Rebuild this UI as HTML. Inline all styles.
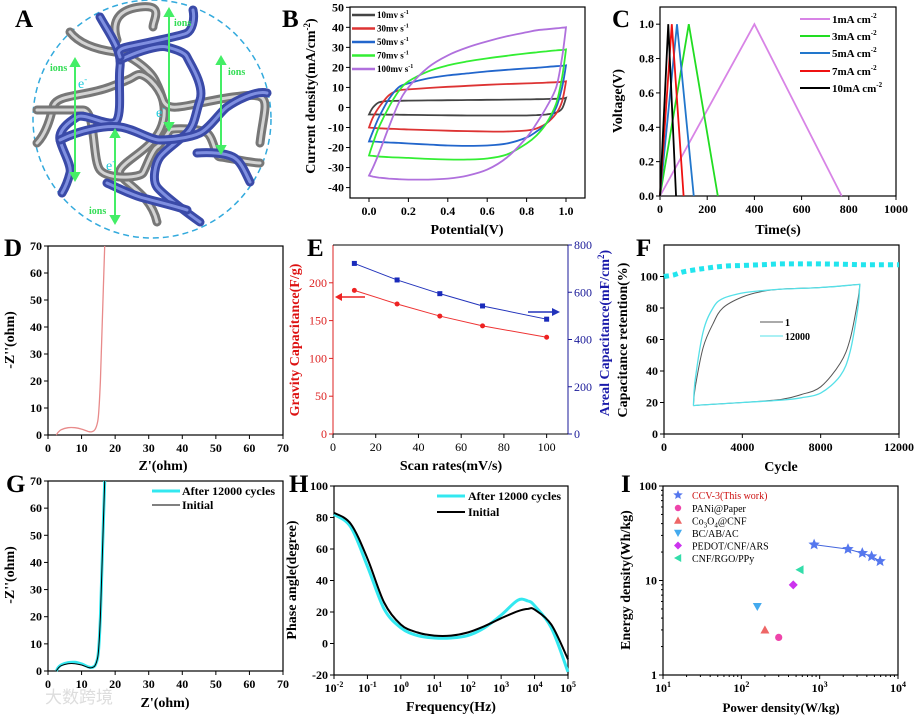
<!DOCTYPE html>
<html><head><meta charset="utf-8">
<style>
html,body{margin:0;padding:0;background:#fff;}
svg{display:block;font-family:"Liberation Serif","Noto Serif CJK SC",serif;}
.pl{font-size:25px;font-weight:bold;fill:#000;}
</style></head>
<body>
<svg id="fig" width="919" height="718" viewBox="0 0 919 718" xmlns="http://www.w3.org/2000/svg">
<rect width="919" height="718" fill="#fff"/>
<g>
<circle cx="152" cy="119" r="119" fill="none" stroke="#33aadd" stroke-width="1.5" stroke-dasharray="6,4"/>
<g fill="none" stroke-linecap="round" stroke-linejoin="round">
<path d="M70,32 C80,45 100,50 115,52 S150,70 155,80 S170,110 160,130 S125,160 120,170 S150,190 157,222" stroke="#777" stroke-width="9"/>
<path d="M70,32 C80,45 100,50 115,52 S150,70 155,80 S170,110 160,130 S125,160 120,170 S150,190 157,222" stroke="#d4d4d4" stroke-width="3"/>
<path d="M37,143 C45,135 50,120 53,107 S83,97 110,87 S130,78 137,75 S158,85 163,100 S190,103 233,97 S265,100 260,143" stroke="#777" stroke-width="9"/>
<path d="M37,143 C45,135 50,120 53,107 S83,97 110,87 S130,78 137,75 S158,85 163,100 S190,103 233,97 S265,100 260,143" stroke="#d4d4d4" stroke-width="3"/>
<path d="M37,110 C50,110 70,110 83,110 S92,160 100,170 S140,178 143,173 S152,150 157,147 S168,132 170,130 S200,128 207,133 S215,157 220,157 S250,163 260,163" stroke="#777" stroke-width="9"/>
<path d="M37,110 C50,110 70,110 83,110 S92,160 100,170 S140,178 143,173 S152,150 157,147 S168,132 170,130 S200,128 207,133 S215,157 220,157 S250,163 260,163" stroke="#d4d4d4" stroke-width="3"/>
<path d="M117,40 C112,25 115,10 140,7 S153,20 153,27" stroke="#777" stroke-width="9"/>
<path d="M117,40 C112,25 115,10 140,7 S153,20 153,27" stroke="#d4d4d4" stroke-width="3"/>
</g>
<g fill="none" stroke-linecap="round" stroke-linejoin="round">
<path d="M100,17 C110,35 122,50 120,67 S122,110 117,120 S85,112 77,117 S58,130 60,140 S72,165 70,173 S65,188 62,193" stroke="#3a4aa8" stroke-width="9"/>
<path d="M100,17 C110,35 122,50 120,67 S122,110 117,120 S85,112 77,117 S58,130 60,140 S72,165 70,173 S65,188 62,193" stroke="#7f8fe0" stroke-width="3"/>
<path d="M120,60 C140,50 160,45 167,47 S185,52 187,57 S205,85 200,100 S195,125 187,133 S165,150 160,157 S152,180 157,187 S190,215 200,222" stroke="#3a4aa8" stroke-width="9"/>
<path d="M120,60 C140,50 160,45 167,47 S185,52 187,57 S205,85 200,100 S195,125 187,133 S165,150 160,157 S152,180 157,187 S190,215 200,222" stroke="#7f8fe0" stroke-width="3"/>
<path d="M193,10 C195,20 192,30 187,33 S140,44 127,47 S120,55 120,57" stroke="#3a4aa8" stroke-width="9"/>
<path d="M193,10 C195,20 192,30 187,33 S140,44 127,47 S120,55 120,57" stroke="#7f8fe0" stroke-width="3"/>
<path d="M60,140 C80,130 105,125 120,127 S150,140 160,140 S190,138 200,133 S220,112 227,107 S255,90 267,93" stroke="#3a4aa8" stroke-width="9"/>
<path d="M60,140 C80,130 105,125 120,127 S150,140 160,140 S190,138 200,133 S220,112 227,107 S255,90 267,93" stroke="#7f8fe0" stroke-width="3"/>
<path d="M197,153 C210,152 225,153 233,157 S245,172 250,182" stroke="#3a4aa8" stroke-width="9"/>
<path d="M197,153 C210,152 225,153 233,157 S245,172 250,182" stroke="#7f8fe0" stroke-width="3"/>
<path d="M107,183 C118,188 130,194 140,197 S175,206 187,210" stroke="#3a4aa8" stroke-width="9"/>
<path d="M107,183 C118,188 130,194 140,197 S175,206 187,210" stroke="#7f8fe0" stroke-width="3"/>
</g>
<g stroke="#44ee66" stroke-width="2" fill="#44ee66">
<line x1="75" y1="64" x2="75" y2="175"/><path d="M71,66 L75,59 L79,66Z"/><path d="M71,173 L75,180 L79,173Z"/>
<line x1="169" y1="14" x2="169" y2="125"/><path d="M165,16 L169,9 L173,16Z"/><path d="M165,123 L169,130 L173,123Z"/>
<line x1="221" y1="62" x2="221" y2="148"/><path d="M217,64 L221,57 L225,64Z"/><path d="M217,146 L221,153 L225,146Z"/>
<line x1="115" y1="135" x2="115" y2="218"/><path d="M111,137 L115,130 L119,137Z"/><path d="M111,216 L115,223 L119,216Z"/>
</g>
<g font-size="10" font-weight="bold" fill="#33dd55">
<text x="50" y="71">ions</text><text x="174" y="26">ions</text><text x="228" y="75">ions</text><text x="89" y="214">ions</text>
</g>
<g font-size="14" fill="#22ccdd">
<text x="78" y="88">e<tspan font-size="9" dy="-6">-</tspan></text>
<text x="156" y="117">e<tspan font-size="9" dy="-6">-</tspan></text>
<text x="106" y="170">e<tspan font-size="9" dy="-6">-</tspan></text>
</g>
</g>
<g id="charts"></g>
<text x="45" y="703" font-size="17" fill="#ddd" font-family="Liberation Sans,Noto Sans CJK SC,sans-serif">大数跨境</text>
</svg>
<script>
// ---------- DATA ----------
const cvPotential = [0,0.02,0.05,0.1,0.15,0.2,0.3,0.4,0.5,0.6,0.7,0.8,0.85,0.9,0.95,0.98,1.0];
const cvRates = ["10mv s","30mv s","50mv s","70mv s","100mv s"];
const cvUpper10 = [-3.5,0,2.5,3.2,3.3,3.4,3.5,3.6,3.7,3.8,3.9,4.0,4.1,4.2,4.3,4.4,4.8];
const cvLower10 = [-3.5,-3.5,-3.5,-3.6,-3.6,-3.7,-3.8,-3.9,-4.0,-4.0,-4.0,-4.0,-3.8,-3.5,-2.5,-0.5,4.8];
const cvUpper30 = [-10,-5,0,6,8.5,9,9.7,10.3,10.8,11.3,11.7,12.0,12.2,12.4,12.6,12.8,13];
const cvLower30 = [-10,-10.2,-10.4,-10.6,-10.8,-11,-11.3,-11.6,-11.8,-12,-12,-11.5,-10.5,-8,-3,3,13];
const cvUpper50 = [-17,-12,-5,4,10,12,14.5,16,17,18,18.8,19.5,19.8,20.2,20.6,20.8,21];
const cvLower50 = [-17,-17,-17.2,-17.5,-17.7,-18,-18.5,-19,-19.2,-19,-18,-15,-12,-8,0,10,21];
const cvUpper70 = [-24,-18,-10,0,8,13,18,21,23,24.5,25.8,27,27.5,28,28.5,28.7,29];
const cvLower70 = [-24,-24.2,-24.5,-24.8,-25,-25.2,-25.7,-26,-26,-25.5,-23.5,-18,-14,-8,2,15,29];
const cvUpper100 = [-34,-30,-23,-10,2,10,20,26,30,33,35.5,37.5,38.5,39,39.5,39.8,40];
const cvLower100 = [-34,-34.5,-35,-35.5,-35.8,-36,-36,-35.5,-34,-31,-25,-15,-8,0,10,25,40];
const gcdLabels = ["1mA cm","3mA cm","5mA cm","7mA cm","10mA cm"];
const gcdChargeTime = [400,122,72,50,35];
const gcdEndTime = [770,245,143,100,68];
const gcdPeakV = [1,1,1,1,1];
const nyqZre = [2.5,3,4,6,8,10,12,13,14,14.8,15.2,15.6,16,16.5,16.9];
const nyqZimD = [0,1,2,2.7,2.7,2.2,1.3,1.2,2,5,10,20,35,55,70];
const nyqZimAfter = [0,1.2,2.3,3.1,3.2,2.6,1.5,1.3,2,5,10,20,35,55,70];
const nyqZimInitial = [0,1,2,2.7,2.7,2.2,1.3,1.2,2,5,10,20,35,55,70];
const scanRates = [10,30,50,70,100];
const gravCap = [190,172,156,143,128];
const arealCap = [722,652,594,542,486];
const cycleX = [0,500,1000,2000,3000,4000,5000,6000,7000,8000,9000,10000,11000,12000];
const retention = [100,101,103,105,106.5,107,107.5,108,108,108,107.8,107.5,107.5,107.5];
const insetUpX = [1500,1600,2000,2500,3000,4000,5000,6000,8000,9500,10000];
const insetUp1 = [18,30,55,70,80,87,90.5,92,93,94.5,95];
const insetUp2 = [18,35,65,80,86,89.5,91,92,93,94.5,95];
const insetLowX = [10000,9900,9500,9000,8000,7000,6000,4000,2000,1500];
const insetLow1 = [95,85,60,45,30,25,22,20,18.5,18];
const insetLow2 = [95,80,52,37,26,23,21.5,20,18.5,18];
const logFreq = [-2,-1.5,-1,-0.5,0,0.5,1,1.5,2,2.5,3,3.5,3.8,4,4.5,5];
const phaseInitial = [83,76,54,26,12,7,5,5,7,11,16,20.5,22,21.5,12,-10];
const phaseAfter = [82,74,49,22,10,5,3.5,3.5,5,10,18,27.5,27,24,10,-18];
const ccvPower = [850,2300,3500,4600,5900];
const ccvEnergy = [24,21.5,19.5,18,16];
const refNames = ["PANi@Paper","Co3O4@CNF","BC/AB/AC","PEDOT/CNF/ARS","CNF/RGO/PPy"];
const refPower = [300,200,160,460,560];
const refEnergy = [2.5,3,5.3,9,13];

// ---------- HELPERS ----------
const NS = "http://www.w3.org/2000/svg";
const root = document.getElementById('charts');
function mk(tag, attrs, name, parent) {
  const el = document.createElementNS(NS, tag);
  for (const k in attrs) el.setAttribute(k, attrs[k]);
  
  
  (parent || root).appendChild(el);
  return el;
}
function lin(d0,d1,r0,r1){ const f=v=>r0+(v-d0)/(d1-d0)*(r1-r0); return f; }
function logs(d0,d1,r0,r1){ const f=v=>r0+(Math.log10(v)-d0)/(d1-d0)*(r1-r0); return f; }
function smooth(pts){
  if(pts.length<2) return "";
  let d="M"+pts[0][0].toFixed(1)+","+pts[0][1].toFixed(1);
  for(let i=0;i<pts.length-1;i++){
    const p0=pts[i-1]||pts[i], p1=pts[i], p2=pts[i+1], p3=pts[i+2]||p2;
    const c1=[p1[0]+(p2[0]-p0[0])/6, p1[1]+(p2[1]-p0[1])/6];
    const c2=[p2[0]-(p3[0]-p1[0])/6, p2[1]-(p3[1]-p1[1])/6];
    d+=" C"+c1[0].toFixed(1)+","+c1[1].toFixed(1)+" "+c2[0].toFixed(1)+","+c2[1].toFixed(1)+" "+p2[0].toFixed(1)+","+p2[1].toFixed(1);
  }
  return d;
}
function frame(x0,y0,x1,y1,name){
  mk('rect',{x:x0,y:y0,width:x1-x0,height:y1-y0,fill:'none',stroke:'#000','stroke-width':1.2},name);
}
function xTicks(vals,sx,yb,labels,name,opts){
  opts=opts||{};
  const g=mk('g',{},name);
  vals.forEach((v,i)=>{
    const x=sx(v);
    mk('line',{x1:x,y1:yb,x2:x,y2:yb+4,stroke:opts.color||'#000'},'x-tick',g);
    const t=mk('text',{x:x,y:yb+17,'text-anchor':'middle','font-size':12,fill:opts.color||'#000','font-weight':opts.weight||'bold'},'x-tick-label',g);
    if(opts.pow){ t.textContent="10"; const s=mk('tspan',{dy:-5,'font-size':8},'exponent',t); s.textContent=labels[i]; }
    else t.textContent=labels[i];
  });
}
function yTicks(vals,sy,xl,labels,name,opts){
  opts=opts||{};
  const g=mk('g',{},name);
  const dir=opts.right?1:-1;
  vals.forEach((v,i)=>{
    const y=sy(v);
    mk('line',{x1:xl,y1:y,x2:xl+4*dir,y2:y,stroke:opts.color||'#000'},'y-tick',g);
    const t=mk('text',{x:xl+6*dir,y:y+4,'text-anchor':opts.right?'start':'end','font-size':12,fill:opts.color||'#000','font-weight':opts.weight||'bold'},'y-tick-label',g);
    t.textContent=labels[i];
  });
}
function label(txt,x,y,name,attrs){
  const t=mk('text',Object.assign({x:x,y:y,'font-size':14,'font-weight':'bold',fill:'#000','text-anchor':'middle'},attrs||{}),name);
  t.textContent=txt; return t;
}
function vlabel(txt,x,y,name,attrs){
  const t=mk('text',Object.assign({x:x,y:y,'font-size':14,'font-weight':'bold',fill:'#000','text-anchor':'middle',transform:'rotate(-90 '+x+' '+y+')'},attrs||{}),name);
  t.textContent=txt; return t;
}

[["A",15,27],["B",282,27],["C",612,27],["D",4,256],["E",307,256],["F",636,256],["G",6,492],["H",289,492],["I",621,492]].forEach(p=>{
  const t=mk('text',{x:p[1],y:p[2],class:'pl'},'panel-label-'+p[0].toLowerCase());
  t.textContent=p[0];
});

// ---------- B ----------
(function(){
  const sx=lin(-0.0964,1.0964,350,585), sy=lin(-45.2,50.15,198,7);
  frame(350,7,585,198,'cv-plot-frame');
  xTicks([0,0.2,0.4,0.6,0.8,1.0],sx,198,["0.0","0.2","0.4","0.6","0.8","1.0"],'cv-x-axis');
  yTicks([-40,-30,-20,-10,0,10,20,30,40,50],sy,350,["-40","-30","-20","-10","0","10","20","30","40","50"],'cv-y-axis');
  const ups=[cvUpper10,cvUpper30,cvUpper50,cvUpper70,cvUpper100];
  const lows=[cvLower10,cvLower30,cvLower50,cvLower70,cvLower100];
  const cols=["#444","#dd3333","#2266cc","#33ee33","#b070dd"];
  for(let s=0;s<5;s++){
    const pts=cvPotential.map((v,i)=>[sx(v),sy(ups[s][i])]);
    const rev=cvPotential.map((v,i)=>[sx(v),sy(lows[s][i])]).reverse();
    mk('path',{d:smooth(pts)+" "+smooth(rev).replace("M","L")+"Z",fill:'none',stroke:cols[s],'stroke-width':1.8},'cv-loop-'+cvRates[s].split('m')[0]);
    const ly=15+s*13.5;
    mk('line',{x1:352,y1:ly,x2:375,y2:ly,stroke:cols[s],'stroke-width':2.5},'legend-line');
    const t=mk('text',{x:377,y:ly+3,'font-size':9,'font-weight':'bold'},'legend-entry');
    t.textContent=cvRates[s];
    const sp=mk('tspan',{dy:-4,'font-size':6},'legend-exponent',t); sp.textContent="-1";
  }
  vlabel("Current density(mA/cm",315,96,'cv-y-axis-title').innerHTML+='<tspan dy="-5" font-size="9">-2</tspan><tspan dy="5">)</tspan>';
  label("Potential(V)",467,234,'cv-x-axis-title');
})();

// ---------- C ----------
(function(){
  const sx=lin(0,1000,660,896), sy=lin(0,1.1,196,7);
  frame(660,7,896,196,'gcd-plot-frame');
  xTicks([0,200,400,600,800,1000],sx,196,["0","200","400","600","800","1000"],'gcd-x-axis');
  yTicks([0,0.2,0.4,0.6,0.8,1.0],sy,660,["0.0","0.2","0.4","0.6","0.8","1.0"],'gcd-y-axis');
  const cols=["#d884e6","#22dd22","#2277cc","#ee1111","#000"];
  for(let s=0;s<5;s++){
    const pts=[[sx(0),sy(0)],[sx(gcdChargeTime[s]),sy(gcdPeakV[s])],[sx(gcdEndTime[s]),sy(0)]];
    mk('polyline',{points:pts.map(p=>p.join(',')).join(' '),fill:'none',stroke:cols[s],'stroke-width':1.8},'gcd-curve-'+s);
    const ly=[19,36,53,71,88][s];
    mk('line',{x1:800,y1:ly,x2:830,y2:ly,stroke:cols[s],'stroke-width':2},'legend-line');
    const t=mk('text',{x:832,y:ly+4,'font-size':11,'font-weight':'bold'},'legend-entry');
    t.textContent=gcdLabels[s];
    const sp=mk('tspan',{dy:-5,'font-size':7},'legend-exponent',t); sp.textContent="-2";
  }
  vlabel("Voltage(V)",622,101,'gcd-y-axis-title');
  label("Time(s)",778,234,'gcd-x-axis-title');
})();

// ---------- D ----------
(function(){
  const sx=lin(0,70,48,283), sy=lin(0,70,435,246);
  frame(48,246,283,435,'nyquist-d-frame');
  const tv=[0,10,20,30,40,50,60,70];
  xTicks(tv,sx,435,tv.map(String),'nyquist-d-x-axis');
  yTicks(tv,sy,48,tv.map(String),'nyquist-d-y-axis');
  mk('path',{d:smooth(nyqZre.map((v,i)=>[sx(v),sy(nyqZimD[i])])),fill:'none',stroke:'#e88a8a','stroke-width':1.3},'nyquist-d-curve');
  vlabel("-Z''(ohm)",14,340,'nyquist-d-y-axis-title');
  label("Z'(ohm)",163,470,'nyquist-d-x-axis-title');
})();

// ---------- E ----------
(function(){
  const sx=lin(0,110,333,568), syl=lin(0,250,434,245), syr=lin(0,800,434,245);
  mk('line',{x1:333,y1:245,x2:333,y2:434,stroke:'#dd2222'},'left-axis-line');
  mk('line',{x1:568,y1:245,x2:568,y2:434,stroke:'#1a1a99'},'right-axis-line');
  mk('line',{x1:333,y1:434,x2:568,y2:434,stroke:'#000'},'bottom-axis-line');
  mk('line',{x1:333,y1:245,x2:568,y2:245,stroke:'#000'},'top-axis-line');
  const xv=[0,20,40,60,80,100];
  xTicks(xv,sx,434,xv.map(String),'capacitance-x-axis',{weight:'normal'});
  const lv=[0,50,100,150,200];
  yTicks(lv,syl,333,lv.map(String),'gravity-y-axis',{color:'#dd2222',weight:'normal'});
  const rv=[0,200,400,600,800];
  yTicks(rv,syr,568,rv.map(String),'areal-y-axis',{color:'#1a1a99',weight:'normal',right:true});
  mk('polyline',{points:scanRates.map((v,i)=>sx(v)+','+syl(gravCap[i])).join(' '),fill:'none',stroke:'#ee3333','stroke-width':1},'gravity-line');
  scanRates.forEach((v,i)=>{ mk('circle',{cx:sx(v),cy:syl(gravCap[i]),r:2.5,fill:'#ee2222'},'gravity-point'); });
  mk('polyline',{points:scanRates.map((v,i)=>sx(v)+','+syr(arealCap[i])).join(' '),fill:'none',stroke:'#2233bb','stroke-width':1},'areal-line');
  scanRates.forEach((v,i)=>{ mk('rect',{x:sx(v)-2.5,y:syr(arealCap[i])-2.5,width:5,height:5,fill:'#1a2bbb'},'areal-point'); });
  mk('line',{x1:365,y1:297,x2:342,y2:297,stroke:'#ee2222','stroke-width':1.5},'left-arrow');
  mk('path',{d:'M342,293 L335,297 L342,301Z',fill:'#ee2222'},'left-arrow-head');
  mk('line',{x1:528,y1:312,x2:552,y2:312,stroke:'#2233bb','stroke-width':1.5},'right-arrow');
  mk('path',{d:'M552,308 L560,312 L552,316Z',fill:'#2233bb'},'right-arrow-head');
  vlabel("Gravity Capacitance(F/g)",299,340,'gravity-y-axis-title',{fill:'#dd1111'});
  vlabel("Areal Capacitance(mF/cm",609,333,'areal-y-axis-title',{fill:'#1a1aaa'}).innerHTML+='<tspan dy="-5" font-size="9">2</tspan><tspan dy="5">)</tspan>';
  label("Scan rates(mV/s)",451,470,'capacitance-x-axis-title');
})();

// ---------- F ----------
(function(){
  const sx=lin(0,12000,664,899), sy=lin(0,120,434,245);
  frame(664,245,899,434,'cycling-frame');
  xTicks([0,4000,8000,12000],sx,434,["0","4000","8000","12000"],'cycling-x-axis');
  yTicks([0,20,40,60,80,100],sy,664,["0","20","40","60","80","100"],'cycling-y-axis');
  mk('path',{d:smooth(cycleX.map((v,i)=>[sx(v),sy(retention[i])])),fill:'none',stroke:'#22e5ee','stroke-width':5,'stroke-dasharray':'5,4'},'retention-series');
  mk('path',{d:smooth(insetUpX.map((v,i)=>[sx(v),sy(insetUp1[i])]))+" "+smooth(insetLowX.map((v,i)=>[sx(v),sy(insetLow1[i])])).replace("M","L"),fill:'none',stroke:'#555','stroke-width':1},'inset-cv-cycle-1');
  mk('path',{d:smooth(insetUpX.map((v,i)=>[sx(v),sy(insetUp2[i])]))+" "+smooth(insetLowX.map((v,i)=>[sx(v),sy(insetLow2[i])])).replace("M","L"),fill:'none',stroke:'#55e0e8','stroke-width':1.3},'inset-cv-cycle-12000');
  mk('line',{x1:760,y1:322,x2:783,y2:322,stroke:'#555'},'inset-legend-line');
  label("1",785,326,'inset-legend-entry',{'text-anchor':'start','font-size':10});
  mk('line',{x1:760,y1:336,x2:783,y2:336,stroke:'#55e0e8'},'inset-legend-line');
  label("12000",785,340,'inset-legend-entry',{'text-anchor':'start','font-size':10});
  vlabel("Capacitance retention(%)",627,340,'cycling-y-axis-title');
  label("Cycle",781,471,'cycling-x-axis-title');
})();

// ---------- G ----------
(function(){
  const sx=lin(0,70,48,283), sy=lin(0,70,671,481);
  frame(48,481,283,671,'nyquist-g-frame');
  const tv=[0,10,20,30,40,50,60,70];
  xTicks(tv,sx,671,tv.map(String),'nyquist-g-x-axis');
  yTicks(tv,sy,48,tv.map(String),'nyquist-g-y-axis');
  mk('path',{d:smooth(nyqZre.map((v,i)=>[sx(v),sy(nyqZimAfter[i])])),fill:'none',stroke:'#33e8f0','stroke-width':3},'after-cycles-curve');
  mk('path',{d:smooth(nyqZre.map((v,i)=>[sx(v),sy(nyqZimInitial[i])])),fill:'none',stroke:'#000','stroke-width':1},'initial-curve');
  mk('line',{x1:152,y1:491,x2:180,y2:491,stroke:'#33e8f0','stroke-width':3},'legend-line');
  label("After 12000 cycles",182,495,'legend-entry',{'text-anchor':'start','font-size':12});
  mk('line',{x1:152,y1:505,x2:180,y2:505,stroke:'#000'},'legend-line');
  label("Initial",182,509,'legend-entry',{'text-anchor':'start','font-size':12});
  vlabel("-Z''(ohm)",14,575,'nyquist-g-y-axis-title');
  label("Z'(ohm)",165,707,'nyquist-g-x-axis-title');
})();

// ---------- H ----------
(function(){
  const sx=lin(-2,5,334,568), sy=lin(-20,100,675,486);
  frame(334,486,568,675,'bode-frame');
  const xv=[-2,-1,0,1,2,3,4,5];
  xTicks(xv,sx,675,xv.map(String),'bode-x-axis',{pow:true});
  const yv=[-20,0,20,40,60,80,100];
  yTicks(yv,sy,334,yv.map(String),'bode-y-axis');
  mk('path',{d:smooth(logFreq.map((v,i)=>[sx(v),sy(phaseAfter[i])])),fill:'none',stroke:'#33e8f0','stroke-width':3},'after-cycles-phase');
  mk('path',{d:smooth(logFreq.map((v,i)=>[sx(v),sy(phaseInitial[i])])),fill:'none',stroke:'#000','stroke-width':2},'initial-phase');
  mk('line',{x1:437,y1:496,x2:465,y2:496,stroke:'#33e8f0','stroke-width':3},'legend-line');
  label("After 12000 cycles",468,500,'legend-entry',{'text-anchor':'start','font-size':12});
  mk('line',{x1:437,y1:512,x2:465,y2:512,stroke:'#000','stroke-width':2},'legend-line');
  label("Initial",468,516,'legend-entry',{'text-anchor':'start','font-size':12});
  vlabel("Phase angle(degree)",296,580,'bode-y-axis-title');
  label("Frequency(Hz)",451,711,'bode-x-axis-title');
})();

// ---------- I ----------
(function(){
  const sx=logs(1,4,663,898), sy=logs(0,2,675,486);
  frame(663,486,898,675,'ragone-frame');
  xTicks([10,100,1000,10000],sx,675,["1","2","3","4"],'ragone-x-axis',{pow:true});
  yTicks([1,10,100],sy,663,["1","10","100"],'ragone-y-axis');
  const mg=mk('g',{},'ragone-minor-ticks');
  for(let d=1;d<4;d++) for(let m=2;m<10;m++){ const x=sx(m*Math.pow(10,d)); mk('line',{x1:x,y1:675,x2:x,y2:677,stroke:'#000'},'minor-tick',mg); }
  for(let d=0;d<2;d++) for(let m=2;m<10;m++){ const y=sy(m*Math.pow(10,d)); mk('line',{x1:663,y1:y,x2:661,y2:y,stroke:'#000'},'minor-tick',mg); }
  function star(cx,cy,r){ let p=[]; for(let k=0;k<10;k++){ const a=-Math.PI/2+k*Math.PI/5, rr=k%2?r*0.45:r; p.push((cx+rr*Math.cos(a)).toFixed(1)+','+(cy+rr*Math.sin(a)).toFixed(1)); } return p.join(' '); }
  mk('polyline',{points:ccvPower.map((v,i)=>sx(v)+','+sy(ccvEnergy[i])).join(' '),fill:'none',stroke:'#4466dd','stroke-width':1},'ccv-line');
  ccvPower.forEach((v,i)=>{ mk('polygon',{points:star(sx(v),sy(ccvEnergy[i]),6),fill:'#5577ee'},'ccv-star'); });
  const cols=["#ee44aa","#ee6666","#44aaee","#cc33ee","#33ddaa"];
  function marker(k,x,y,r,name){
    if(k===0) return mk('circle',{cx:x,cy:y,r:r*0.8,fill:cols[0]},name);
    if(k===1) return mk('path',{d:`M${x},${y-r} L${x+r},${y+r*0.8} L${x-r},${y+r*0.8}Z`,fill:cols[1]},name);
    if(k===2) return mk('path',{d:`M${x},${y+r} L${x+r},${y-r*0.8} L${x-r},${y-r*0.8}Z`,fill:cols[2]},name);
    if(k===3) return mk('path',{d:`M${x},${y-r} L${x+r},${y} L${x},${y+r} L${x-r},${y}Z`,fill:cols[3]},name);
    return mk('path',{d:`M${x-r},${y} L${x+r*0.8},${y-r} L${x+r*0.8},${y+r}Z`,fill:cols[4]},name);
  }
  refPower.forEach((v,i)=>{ marker(i,sx(v),sy(refEnergy[i]),4.5,'ref-point'); });
  mk('polygon',{points:star(678,495,5),fill:'#5577ee'},'legend-marker');
  label("CCV-3(This work)",692,499,'legend-entry',{'text-anchor':'start','font-size':10,'font-weight':'normal',fill:'#cc1111'});
  refNames.forEach((n,i)=>{
    const y=508+i*12.5;
    marker(i,678,y,4,'legend-marker');
    const t=label(n==="Co3O4@CNF"?"":n,692,y+4,'legend-entry',{'text-anchor':'start','font-size':10,'font-weight':'normal'});
    if(n==="Co3O4@CNF") t.innerHTML='Co<tspan dy="3" font-size="7">3</tspan><tspan dy="-3">O</tspan><tspan dy="3" font-size="7">4</tspan><tspan dy="-3">@CNF</tspan>';
  });
  vlabel("Energy density(Wh/kg)",630,580,'ragone-y-axis-title');
  label("Power density(W/kg)",781,712,'ragone-x-axis-title',{'font-size':13});
})();
</script>
</body></html>
